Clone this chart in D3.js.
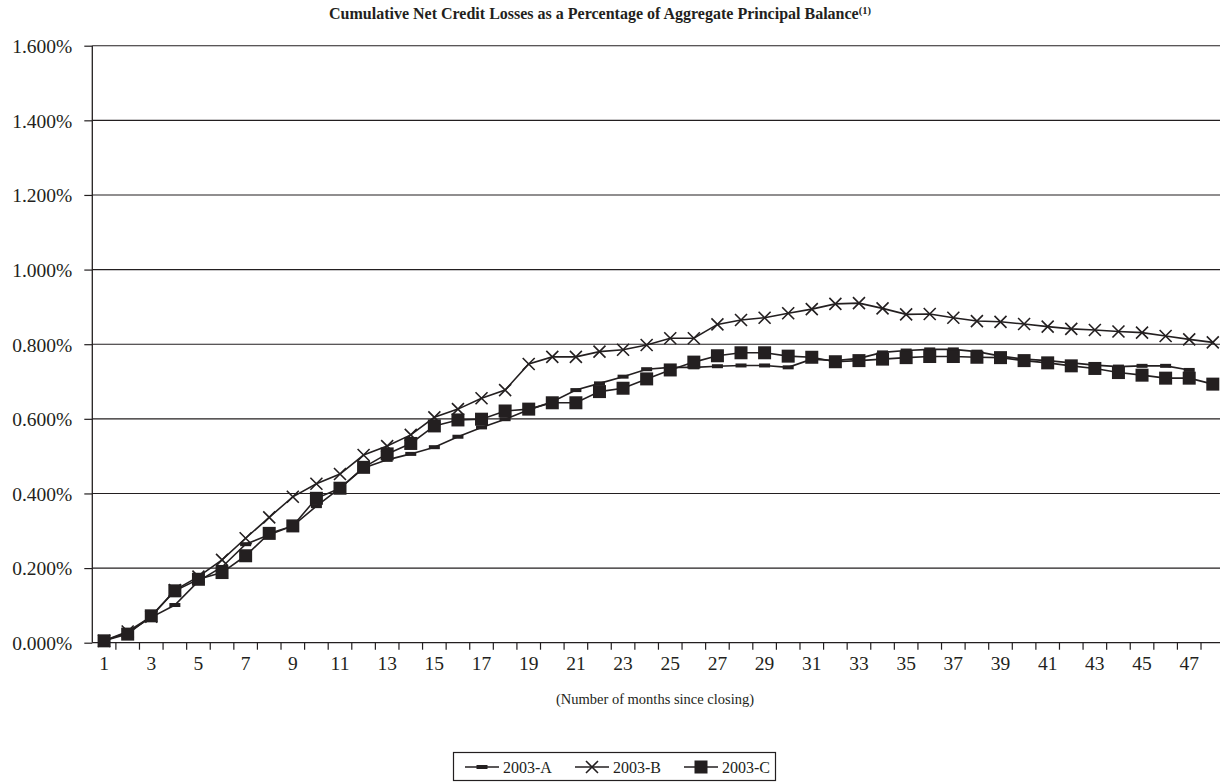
<!DOCTYPE html>
<meta charset="utf-8">
<style>
  body { margin: 0; background: #fff; }
  text { font-family: "Liberation Serif", "Times New Roman", serif; fill: #231f20; }
  .title { font-weight: bold; font-size: 16px; text-anchor: middle; }
  .tick text { font-size: 19.5px; }
  .grid line { stroke: #231f20; stroke-width: 1.1px; }
  .series { fill: none; stroke: #231f20; stroke-width: 1.6px; }
</style>
<body>
<script src="https://d3js.org/d3.v7.min.js"></script>
<script>

var width = 1220,
    height = 782;

var months = [1, 2, 3, 4, 5, 6, 7, 8, 9, 10, 11, 12, 13, 14, 15, 16, 17, 18, 19, 20, 21, 22, 23, 24,
              25, 26, 27, 28, 29, 30, 31, 32, 33, 34, 35, 36, 37, 38, 39, 40, 41, 42, 43, 44, 45, 46, 47, 48];

var yTicks = [0, 0.2, 0.4, 0.6, 0.8, 1.0, 1.2, 1.4, 1.6];

// cumulative net credit losses, percent
var lossA = [0.005, 0.027, 0.068, 0.101, 0.165, 0.203, 0.264, 0.289, 0.313, 0.366, 0.414, 0.468,
             0.490, 0.506, 0.524, 0.552, 0.577, 0.599, 0.624, 0.646, 0.677, 0.695, 0.713, 0.733,
             0.738, 0.738, 0.741, 0.743, 0.743, 0.738, 0.760, 0.756, 0.762, 0.778, 0.783, 0.786,
             0.786, 0.780, 0.768, 0.760, 0.756, 0.750, 0.744, 0.740, 0.742, 0.742, 0.731];

var lossB = [0.005, 0.030, 0.070, 0.141, 0.177, 0.222, 0.280, 0.336, 0.391, 0.426, 0.452, 0.503,
             0.527, 0.557, 0.604, 0.626, 0.655, 0.677, 0.747, 0.766, 0.766, 0.780, 0.785, 0.798,
             0.816, 0.816, 0.853, 0.865, 0.871, 0.883, 0.894, 0.908, 0.910, 0.896, 0.880, 0.881,
             0.871, 0.862, 0.860, 0.854, 0.847, 0.841, 0.838, 0.834, 0.831, 0.822, 0.813, 0.805];

var lossC = [0.005, 0.023, 0.072, 0.139, 0.170, 0.188, 0.233, 0.293, 0.313, 0.387, 0.414, 0.470,
             0.506, 0.534, 0.581, 0.597, 0.599, 0.621, 0.626, 0.643, 0.643, 0.673, 0.682, 0.707,
             0.731, 0.752, 0.769, 0.777, 0.777, 0.768, 0.765, 0.753, 0.756, 0.760, 0.764, 0.767,
             0.767, 0.765, 0.764, 0.756, 0.750, 0.742, 0.735, 0.724, 0.717, 0.709, 0.709, 0.693];

var seriesNames = ["2003-A", "2003-B", "2003-C"];
var seriesMarks = ["dash", "cross", "square"];

var series = [lossA, lossB, lossC].map(function(vals, i) {
  return { name: seriesNames[i], mark: seriesMarks[i],
           values: vals.map(function(v, j) { return { m: months[j], v: v }; }) };
});

var plotLeft = 92.3, plotRight = 1224.6, plotTop = 45.7, plotBottom = 642.7;

var svg = d3.select("body").append("svg")
  .attr("width", width)
  .attr("height", height);

var x = d3.scaleBand()
  .domain(months)
  .range([plotLeft, plotRight])
  .padding(0);

var y = d3.scaleLinear()
  .domain([0, 1.6])
  .range([plotBottom, plotTop]);

var fmt = d3.format(".3f");

svg.append("text")
  .attr("class", "title")
  .attr("x", 600)
  .attr("y", 19)
  .text("Cumulative Net Credit Losses as a Percentage of Aggregate Principal Balance")
  .append("tspan")
    .attr("dy", -5)
    .style("font-size", "10.5px")
    .text("(1)");

// gridlines
svg.append("g")
  .attr("class", "grid")
  .selectAll("line")
  .data(yTicks.slice(1))
  .enter().append("line")
    .attr("x1", plotLeft)
    .attr("x2", plotRight)
    .attr("y1", function(d) { return y(d); })
    .attr("y2", function(d) { return y(d); });

// y axis
var yAxis = svg.append("g")
  .attr("transform", "translate(" + plotLeft + ",0)")
  .call(d3.axisLeft(y).tickValues(yTicks).tickSize(8).tickPadding(12)
    .tickFormat(function(d) { return fmt(d) + "%"; }));
yAxis.select(".domain").attr("stroke", "#231f20").attr("stroke-width", 1.3)
  .attr("d", "M0," + plotTop + "V" + plotBottom);
yAxis.selectAll(".tick line").attr("stroke", "#231f20").attr("stroke-width", 1.2);
yAxis.selectAll(".tick text").attr("dy", "0.35em");

// x axis
var xAxis = svg.append("g")
  .attr("transform", "translate(0," + plotBottom + ")")
  .call(d3.axisBottom(x).tickSize(0).tickPadding(13)
    .tickFormat(function(d) { return d % 2 === 1 ? d : ""; }));
xAxis.select(".domain").attr("stroke", "#231f20").attr("stroke-width", 1.3)
  .attr("d", "M" + plotLeft + ",0H" + plotRight);
xAxis.selectAll(".tick text").attr("dy", "0.71em");

xAxis.selectAll(".bnd")
  .data(months)
  .enter().append("line")
    .attr("x1", function(d) { return x(d) + x.bandwidth(); })
    .attr("x2", function(d) { return x(d) + x.bandwidth(); })
    .attr("y1", 0)
    .attr("y2", 7)
    .attr("stroke", "#231f20")
    .attr("stroke-width", 1.2);

svg.append("text")
  .attr("x", 655)
  .attr("y", 704)
  .attr("text-anchor", "middle")
  .style("font-size", "14.5px")
  .text("(Number of months since closing)");

var line = d3.line()
  .x(function(d) { return x(d.m) + x.bandwidth() / 2; })
  .y(function(d) { return y(d.v); });

function drawMark(g, kind) {
  if (kind === "square") {
    g.append("rect").attr("x", -6.5).attr("y", -6.5).attr("width", 13).attr("height", 13)
      .attr("fill", "#231f20");
  } else if (kind === "cross") {
    g.append("path").attr("d", "M-6,-6L6,6M-6,6L6,-6")
      .attr("stroke", "#231f20").attr("stroke-width", 1.6).attr("fill", "none");
  } else {
    g.append("rect").attr("x", -5.5).attr("y", -2).attr("width", 11).attr("height", 4)
      .attr("fill", "#231f20");
  }
}

series.forEach(function(s) {
  var g = svg.append("g");
  g.append("path")
    .datum(s.values)
    .attr("class", "series")
    .attr("d", line);
  g.selectAll(".mk")
    .data(s.values)
    .enter().append("g")
      .attr("transform", function(d) {
        return "translate(" + (x(d.m) + x.bandwidth() / 2) + "," + y(d.v) + ")";
      })
      .each(function() { drawMark(d3.select(this), s.mark); });
});

// legend
var legend = svg.append("g");
legend.append("rect")
  .attr("x", 453.5).attr("y", 752.5).attr("width", 322).attr("height", 28)
  .attr("fill", "none").attr("stroke", "#231f20").attr("stroke-width", 1.2);

var legendX = [465, 575, 684];
series.forEach(function(s, i) {
  var lg = legend.append("g").attr("transform", "translate(" + legendX[i] + ",767)");
  lg.append("line").attr("x1", 0).attr("x2", 34).attr("y1", 0).attr("y2", 0)
    .attr("stroke", "#231f20").attr("stroke-width", 1.6);
  drawMark(lg.append("g").attr("transform", "translate(17,0)"), s.mark);
  lg.append("text").attr("x", 38).attr("y", 0).attr("dy", "0.35em")
    .style("font-size", "16px").text(s.name);
});

</script>
